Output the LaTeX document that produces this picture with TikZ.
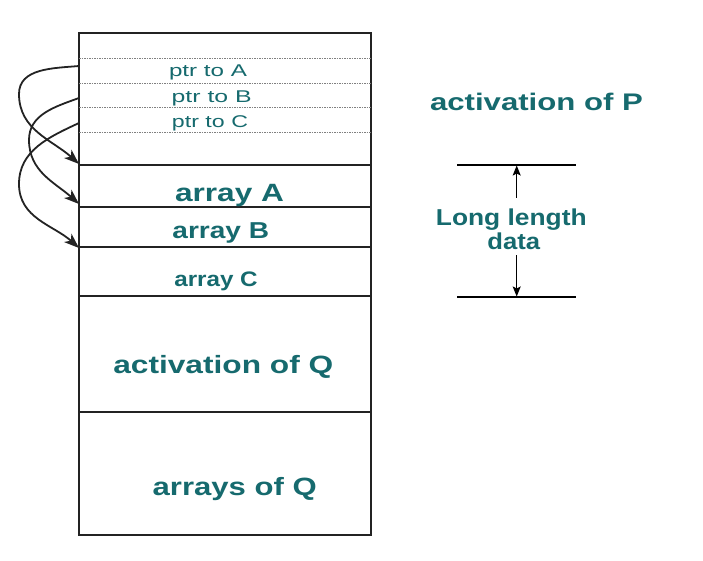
\documentclass[tikz,border=0pt]{standalone}
\usepackage{fontspec}
\setmainfont{Liberation Sans}
\usetikzlibrary{arrows.meta}
\definecolor{txtteal}{RGB}{22,106,110}
\definecolor{linegray}{RGB}{35,35,35}
\newcommand{\stretchto}[3]{\resizebox{#1pt}{\height}{\fontsize{#2}{#2}\selectfont #3}}
\begin{document}
\begin{tikzpicture}[x=1pt,y=-1pt,
  lbl/.style={anchor=base, inner sep=0pt, text=txtteal},
  boxline/.style={draw=linegray, line width=1.5pt},
  dashline/.style={draw=gray, line width=0.8pt, dash pattern=on 1.5pt off 1pt},
  ptrarrow/.style={draw=linegray, line width=1.8pt, -{Stealth[length=15pt,width=11pt,inset=4pt]}},
  dimline/.style={draw=black, line width=1.1pt},
  dimarrow/.style={draw=black, line width=1.1pt, -{Stealth[length=10pt,width=8pt,inset=2pt]}}]
\useasboundingbox (0,0) rectangle (703,561);
\fill[white] (0,0) rectangle (703,561);
% stack
\draw[boxline] (79,33) rectangle (371,535);
\foreach \y in {58,83,107,132} \draw[dashline] (79,\y) -- (371,\y);
\foreach \y in {165,207,247,296,412} \draw[boxline] (79,\y) -- (371,\y);
% labels
\node[lbl] (ptrA) at (208,76.7) {\stretchto{78}{17}{ptr to A}};
\node[lbl] (ptrB) at (211.7,103) {\stretchto{80}{17}{ptr to B}};
\node[lbl] (ptrC) at (210,128) {\stretchto{76}{17}{ptr to C}};
\node[lbl] (arrA) at (229.5,201.7) {\stretchto{109}{25}{\bfseries array A}};
\node[lbl] (arrB) at (220.8,238.3) {\stretchto{96.7}{23}{\bfseries array B}};
\node[lbl] (arrC) at (216,286.7) {\stretchto{83.4}{21}{\bfseries array C}};
\node[lbl] (actQ) at (223.3,373.3) {\stretchto{220}{25}{\bfseries activation of Q}};
\node[lbl] (arrsQ) at (234.7,495) {\stretchto{164}{25}{\bfseries arrays of Q}};
\node[lbl] (actP) at (536.5,111) {\stretchto{213}{24}{\bfseries activation of P}};
\node[lbl] (long) at (511.3,225.5) {\stretchto{150.7}{23}{\bfseries Long length}};
\node[lbl] (data) at (513.7,249) {\stretchto{52.7}{23}{\bfseries data}};
% pointer arrows
\coordinate (sA) at (79,66);  \coordinate (lA) at (19,94);  \coordinate (tA) at (79,164);
\coordinate (sB) at (79,98);  \coordinate (lB) at (29,140); \coordinate (tB) at (79,204);
\coordinate (sC) at (79,123); \coordinate (lC) at (19,184); \coordinate (tC) at (79,248);
\draw[ptrarrow] (sA) to[out=185,in=90] (lA) to[out=-90,in=138] (tA);
\draw[ptrarrow] (sB) to[out=200,in=90] (lB) to[out=-90,in=138] (tB);
\draw[ptrarrow] (sC) to[out=205,in=90] (lC) to[out=-90,in=138] (tC);
% dimension
\coordinate (dT1) at (457,165); \coordinate (dT2) at (576,165);
\coordinate (dB1) at (457,297); \coordinate (dB2) at (576,297);
\draw[dimline] (dT1) -- (dT2);
\draw[dimline] (dB1) -- (dB2);
\coordinate (upS) at (516.7,198); \coordinate (upE) at (516.7,165.5);
\coordinate (dnS) at (516.7,255); \coordinate (dnE) at (516.7,296.5);
\draw[dimarrow] (upS) -- (upE);
\draw[dimarrow] (dnS) -- (dnE);
\end{tikzpicture}
\end{document}
